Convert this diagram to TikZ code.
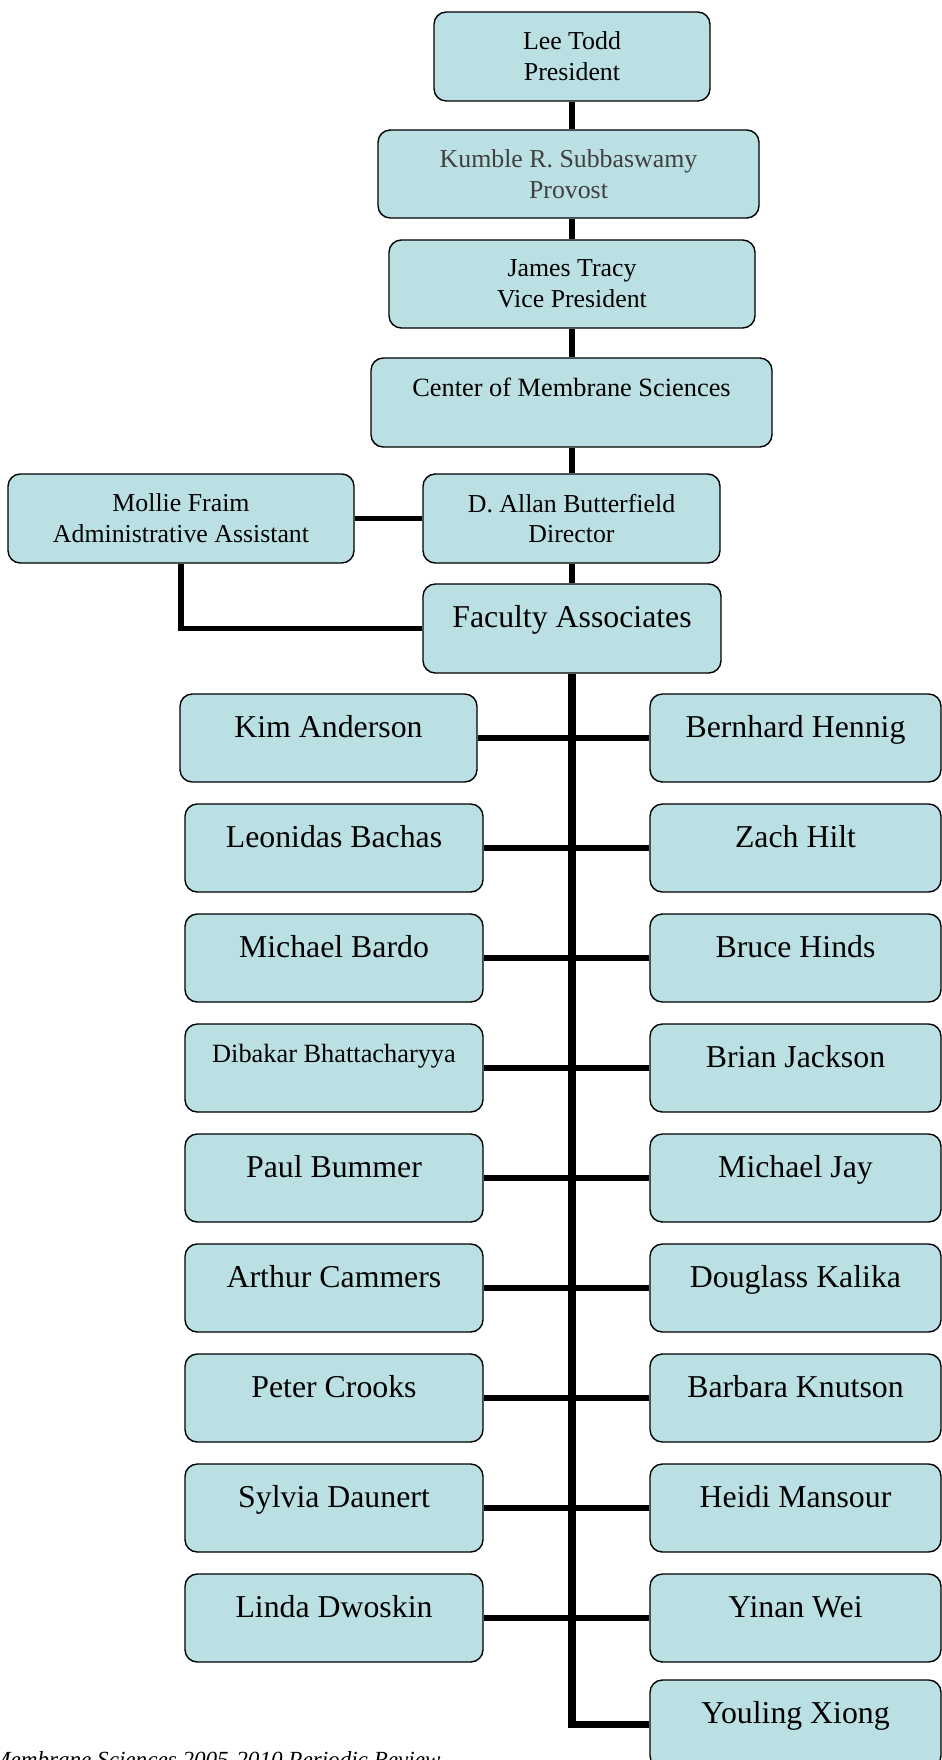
\documentclass[tikz,border=0pt]{standalone}
\usepackage{fontspec}
\setmainfont{Liberation Serif}
\definecolor{boxfill}{RGB}{187,224,227}
\definecolor{provgray}{RGB}{64,64,64}
\begin{document}
\begin{tikzpicture}[x=0.02cm,y=-0.02cm,
  orgbox/.style={draw=black, line width=0.8pt, fill=boxfill, rounded corners=7pt, inner sep=0pt, align=center},
  sz/.style 2 args={minimum width=#1*0.02cm, minimum height=#2*0.02cm},
  topbox/.style={orgbox, font=\fontsize{14.7}{17.6}\selectfont},
  namebox/.style={orgbox, font=\fontsize{18.1}{21}\selectfont, text height=12pt, text depth=13.1pt},
  smallbox/.style={orgbox, font=\fontsize{15}{18}\selectfont, text height=10pt, text depth=16.5pt},
  lnk/.style={line width=3.1pt},
  trunk/.style={line width=4pt},
  branch/.style={line width=3.4pt}
]
\useasboundingbox[fill=white] (0,0) rectangle (942,1760);

% upper chain
\node[topbox, sz={276}{89}] (lee) at (572,56.5) {Lee Todd\\President};
\node[topbox, sz={381}{88}, text=provgray] (prov) at (568.5,174) {Kumble R. Subbaswamy\\Provost};
\node[topbox, sz={366}{88}] (vp) at (572,284) {James Tracy\\Vice President};
\node[smallbox, sz={401}{89}] (cms) at (571.5,402.5) {Center of Membrane Sciences};
\node[topbox, sz={346}{89}] (mollie) at (181,518.5) {Mollie Fraim\\Administrative Assistant};
\node[topbox, sz={297}{89}] (dir) at (571.5,518.5) {D. Allan Butterfield\\Director};
\node[namebox, sz={298}{89}] (fac) at (572,628.5) {Faculty Associates};

% left column
\node[namebox, sz={297}{88}] (L1) at (328.5,738) {Kim Anderson};
\node[namebox, sz={298}{88}] (L2) at (334,848) {Leonidas Bachas};
\node[namebox, sz={298}{88}] (L3) at (334,958) {Michael Bardo};
\node[smallbox, sz={298}{88}] (L4) at (334,1068) {Dibakar Bhattacharyya};
\node[namebox, sz={298}{88}] (L5) at (334,1178) {Paul Bummer};
\node[namebox, sz={298}{88}] (L6) at (334,1288) {Arthur Cammers};
\node[namebox, sz={298}{88}] (L7) at (334,1398) {Peter Crooks};
\node[namebox, sz={298}{88}] (L8) at (334,1508) {Sylvia Daunert};
\node[namebox, sz={298}{88}] (L9) at (334,1618) {Linda Dwoskin};

% right column
\node[namebox, sz={291}{88}] (R1) at (795.5,738) {Bernhard Hennig};
\node[namebox, sz={291}{88}] (R2) at (795.5,848) {Zach Hilt};
\node[namebox, sz={291}{88}] (R3) at (795.5,958) {Bruce Hinds};
\node[namebox, sz={291}{88}] (R4) at (795.5,1068) {Brian Jackson};
\node[namebox, sz={291}{88}] (R5) at (795.5,1178) {Michael Jay};
\node[namebox, sz={291}{88}] (R6) at (795.5,1288) {Douglass Kalika};
\node[namebox, sz={291}{88}] (R7) at (795.5,1398) {Barbara Knutson};
\node[namebox, sz={291}{88}] (R8) at (795.5,1508) {Heidi Mansour};
\node[namebox, sz={291}{88}] (R9) at (795.5,1618) {Yinan Wei};
\node[namebox, sz={291}{88}] (R10) at (795.5,1724) {Youling Xiong};

% connectors
\draw[lnk] (lee.south) -- (lee.south |- prov.north);
\draw[lnk] (lee.south |- prov.south) -- (lee.south |- vp.north);
\draw[lnk] (vp.south) -- (vp.south |- cms.north);
\draw[lnk] (vp.south |- cms.south) -- (vp.south |- dir.north);
\draw[lnk] (fac.north |- dir.south) -- (fac.north);
\draw[lnk] (mollie.east) -- (dir.west);
\draw[lnk] (mollie.south) |- (fac.west);
\draw[trunk] (fac.south) |- (R10.west);
\foreach \i in {1,...,9} \draw[branch] (L\i.east) -- (R\i.west);

% footer
\node[anchor=base west, inner sep=0pt, font=\itshape\fontsize{13.15}{16}\selectfont] (note) at (-9,1767) {Membrane Sciences 2005-2010 Periodic Review};
\end{tikzpicture}
\end{document}
